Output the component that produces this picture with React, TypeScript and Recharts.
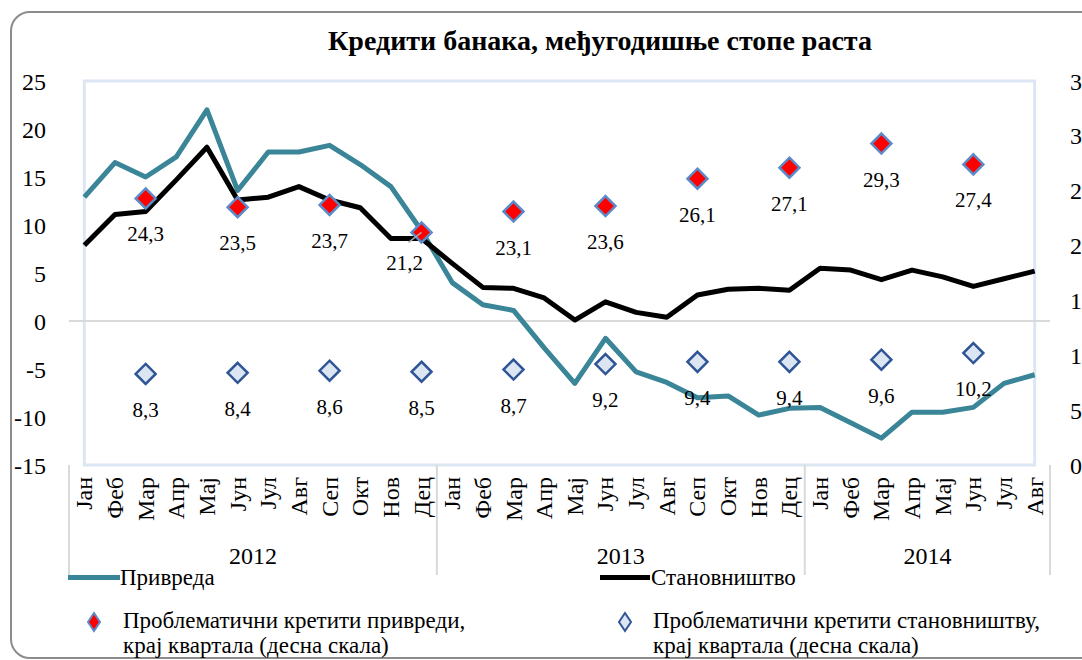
import React from 'react';
import { ComposedChart, Line, XAxis, YAxis, ReferenceLine, ReferenceArea, LabelList } from 'recharts';

const monthNames = ['Јан', 'Феб', 'Мар', 'Апр', 'Мај', 'Јун', 'Јул', 'Авг', 'Сеп', 'Окт', 'Нов', 'Дец'];
const years = ['2012', '2013', '2014'];
const monthsPerYear = [12, 12, 8];

// Привреда, lijeva skala
const privreda = [12.9, 16.5, 15.0, 17.1, 22.0, 13.6, 17.6, 17.6, 18.3, 16.3, 14.0, 9.4,
  4.0, 1.7, 1.1, -2.8, -6.5, -1.8, -5.3, -6.4, -8.0, -7.8, -9.8, -9.1,
  -9.0, -10.6, -12.2, -9.5, -9.5, -9.0, -6.5, -5.6];
// Становништво, lijeva skala
const stanovnistvo = [7.9, 11.1, 11.4, 14.7, 18.1, 12.6, 12.9, 14.0, 12.6, 11.8, 8.6, 8.6,
  6.0, 3.5, 3.4, 2.4, 0.1, 2.0, 0.9, 0.4, 2.7, 3.3, 3.4, 3.2,
  5.5, 5.3, 4.3, 5.3, 4.6, 3.6, 4.4, 5.2];
// problematicni krediti, kraj kvartala (desna skala)
const problemPrivreda = [24.3, 23.5, 23.7, 21.2, 23.1, 23.6, 26.1, 27.1, 29.3, 27.4];
const problemStanovnistvo = [8.3, 8.4, 8.6, 8.5, 8.7, 9.2, 9.4, 9.4, 9.6, 10.2];

const leftTicks = [-15, -10, -5, 0, 5, 10, 15, 20, 25];
const rightTicks = [0, 5, 10, 15, 20, 25, 30, 35];

const data: any[] = [];
years.forEach((yr, yi) => {
  for (let m = 0; m < monthsPerYear[yi]; m++) {
    const i = data.length;
    const q = i % 3 === 2 ? (i - 2) / 3 : -1;
    data.push({
      id: `${monthNames[m]} ${yr}`,
      privreda: privreda[i],
      stanovnistvo: stanovnistvo[i],
      probPriv: q >= 0 ? problemPrivreda[q] : null,
      probStan: q >= 0 ? problemStanovnistvo[q] : null,
    });
  }
});

const W = 1110;
const H = 660;
const PLOT_LEFT = 69;
const PLOT_RIGHT = 1050;
const PLOT_TOP = 81;
const PLOT_BOTTOM = 465;
const BAND = (PLOT_RIGHT - PLOT_LEFT) / data.length;
const FONT = '"Liberation Serif", "Times New Roman", serif';
const TEAL = '#3a8597';

const MonthTick = (props: any) => {
  const { x, payload } = props;
  const [m, yr] = String(payload.value).split(' ');
  const idx = payload.index ?? props.index;
  const yi = years.indexOf(yr);
  const isFirst = m === 'Јан';
  const isLast = idx === data.length - 1;
  return (
    <g>
      <text transform={`translate(${x + 8},${PLOT_BOTTOM + 12}) rotate(-90)`} textAnchor="end"
        fontFamily={FONT} fontSize={24} fill="#000">{m}</text>
      {isFirst && (
        <>
          <line x1={x - BAND / 2} x2={x - BAND / 2} y1={PLOT_BOTTOM} y2={575} stroke="#d9d9d9" strokeWidth={2} />
          <text x={x - BAND / 2 + (monthsPerYear[yi] * BAND) / 2} y={564} textAnchor="middle"
            fontFamily={FONT} fontSize={24} fill="#000">{yr}</text>
        </>
      )}
      {isLast && <line x1={x + BAND / 2} x2={x + BAND / 2} y1={PLOT_BOTTOM} y2={575} stroke="#d9d9d9" strokeWidth={2} />}
    </g>
  );
};

const diamond = (fill: string, stroke: string) => (props: any) => {
  const { cx, cy, value, index } = props;
  if (value == null || cy == null || isNaN(cy)) return <g key={`e${index}`} />;
  return (
    <path key={`d${index}`} d={`M${cx},${cy - 10} L${cx + 10},${cy} L${cx},${cy + 10} L${cx - 10},${cy} Z`}
      fill={fill} stroke={stroke} strokeWidth={2.5} />
  );
};

const valueLabel = (props: any) => {
  const { x, y, value, index } = props;
  if (value == null) return null;
  const txt = Number(value).toFixed(1).replace('.', ',');
  // Dec 2012 label is pushed aside with a leader line
  if (index === 11 && value > 15) {
    return (
      <g>
        <line x1={x - 13} y1={y + 10} x2={x} y2={y} stroke="#a6a6a6" strokeWidth={1.5} />
        <text x={x - 17} y={y + 31} textAnchor="middle" dominantBaseline="central"
          fontFamily={FONT} fontSize={21} fill="#000">{txt}</text>
      </g>
    );
  }
  return (
    <text x={x} y={y + 36} textAnchor="middle" dominantBaseline="central"
      fontFamily={FONT} fontSize={21} fill="#000">{txt}</text>
  );
};

const tickStyle = { fill: '#000', fontSize: 24, fontFamily: FONT };

export default function App() {
  return (
    <div style={{ position: 'fixed', left: 0, top: 0, width: 1082, height: 660, overflow: 'hidden', background: '#fff', fontFamily: FONT }}>
      <div style={{ position: 'absolute', left: 10, top: 11, width: 1090, height: 648, border: '2px solid #8c8c8c', borderRadius: 20, boxSizing: 'border-box' }} />
      <div style={{ position: 'absolute', left: 0, top: 25, width: 1200, textAlign: 'center', fontSize: 28, fontWeight: 'bold', color: '#000' }}>
        Кредити банака, међугодишње стопе раста
      </div>
      <div style={{ position: 'absolute', left: 0, top: 0 }}>
        <ComposedChart width={W} height={H} data={data}
          margin={{ top: PLOT_TOP, right: 0, bottom: H - PLOT_BOTTOM - 110, left: 0 }}>
          <XAxis dataKey="id" interval={0} height={110} axisLine={false} tickLine={false} tick={<MonthTick />}
            padding={{ left: BAND / 2, right: BAND / 2 }} />
          <YAxis yAxisId="l" width={PLOT_LEFT} domain={[-15, 25]} ticks={leftTicks} allowDataOverflow
            axisLine={false} tickLine={false} tickSize={0} tickMargin={23} tick={tickStyle} />
          <YAxis yAxisId="r" orientation="right" width={W - PLOT_RIGHT} domain={[0, 35]} ticks={rightTicks} allowDataOverflow
            axisLine={false} tickLine={false} tickSize={0} tickMargin={20} tick={{ ...tickStyle, textAnchor: 'start' }} />
          <ReferenceArea yAxisId="l" y1={-15} y2={25} fill="none" stroke="#dce6f2" strokeWidth={3} />
          <ReferenceLine yAxisId="l" y={0} stroke="#d9d9d9" strokeWidth={2} />
          <Line yAxisId="l" dataKey="privreda" type="linear" stroke={TEAL} strokeWidth={5} dot={false}
            activeDot={false} isAnimationActive={false} strokeLinejoin="round" />
          <Line yAxisId="l" dataKey="stanovnistvo" type="linear" stroke="#000" strokeWidth={5} dot={false}
            activeDot={false} isAnimationActive={false} strokeLinejoin="round" />
          <Line yAxisId="r" dataKey="probStan" stroke="none" dot={diamond('#dce6f2', '#2f5597')}
            activeDot={false} isAnimationActive={false}>
            <LabelList dataKey="probStan" content={valueLabel} />
          </Line>
          <Line yAxisId="r" dataKey="probPriv" stroke="none" dot={diamond('#ff0000', '#5b8bc9')}
            activeDot={false} isAnimationActive={false}>
            <LabelList dataKey="probPriv" content={valueLabel} />
          </Line>
        </ComposedChart>
      </div>
      <div style={{ position: 'absolute', left: 0, top: 0, width: 1082, height: 660, fontSize: 23, color: '#000' }}>
        <div style={{ position: 'absolute', left: 68, top: 575, width: 52, height: 5, background: TEAL }} />
        <div style={{ position: 'absolute', left: 120, top: 564, lineHeight: '28px' }}>Привреда</div>
        <div style={{ position: 'absolute', left: 600, top: 575, width: 50, height: 5, background: '#000' }} />
        <div style={{ position: 'absolute', left: 651, top: 564, lineHeight: '28px' }}>Становништво</div>
        <svg style={{ position: 'absolute', left: 85, top: 611 }} width={18} height={22}>
          <path d="M9,2 L15,11 L9,20 L3,11 Z" fill="#ff0000" stroke="#5b8bc9" strokeWidth={2} />
        </svg>
        <div style={{ position: 'absolute', left: 123, top: 608, lineHeight: '25px' }}>
          Проблематични кретити привреди,<br />крај квартала (десна скала)
        </div>
        <svg style={{ position: 'absolute', left: 616, top: 611 }} width={18} height={22}>
          <path d="M9,2 L15,11 L9,20 L3,11 Z" fill="#dce6f2" stroke="#2f5597" strokeWidth={2} />
        </svg>
        <div style={{ position: 'absolute', left: 653, top: 608, lineHeight: '25px' }}>
          Проблематични кретити становништву,<br />крај квартала (десна скала)
        </div>
      </div>
    </div>
  );
}
